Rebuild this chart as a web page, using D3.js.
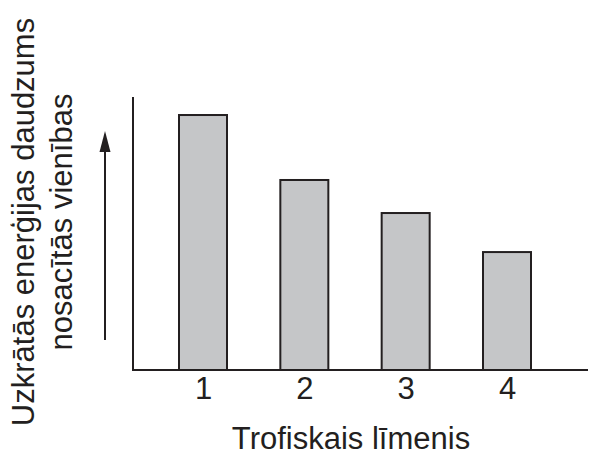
<!DOCTYPE html>
<html>
<head>
<meta charset="utf-8">
<script src="https://cdn.jsdelivr.net/npm/d3@7"></script>
<style>
body { margin: 0; background: #fff; }
text { font-family: "Liberation Sans", Arial, sans-serif; fill: #231f20; }
</style>
</head>
<body>
<svg id="chart" width="590" height="455"></svg>
<script>
// trophic levels and relative stored energy (arbitrary units)
var levels = ["1", "2", "3", "4"];
var energy = [93.4, 69.6, 57.5, 43.2];
var yLabelLines = ["Uzkrātās enerģijas daudzums", "nosacītās vienības"];
var xTitle = "Trofiskais līmenis";

var ink = "#231f20";
var svg = d3.select("#chart");

var x = d3.scalePoint().domain(levels).range([203, 507]);
var y = d3.scaleLinear().domain([0, 100]).range([370, 97]);
var barW = 48;

// bars
svg.append("g").selectAll("rect")
	.data(levels)
	.enter().append("rect")
	.attr("x", function (d) { return x(d) - barW / 2; })
	.attr("y", function (d, i) { return y(energy[i]); })
	.attr("width", barW)
	.attr("height", function (d, i) { return y(0) - y(energy[i]); })
	.attr("fill", "#c5c6c8")
	.attr("stroke", ink)
	.attr("stroke-width", 2);

// axis lines
svg.append("line")
	.attr("x1", 133).attr("x2", 133)
	.attr("y1", y(100)).attr("y2", y(0))
	.attr("stroke", ink).attr("stroke-width", 2);
svg.append("line")
	.attr("x1", 132).attr("x2", 588)
	.attr("y1", y(0)).attr("y2", y(0))
	.attr("stroke", ink).attr("stroke-width", 2);

// tick labels
var xAxis = svg.append("g")
	.attr("transform", "translate(0," + y(0) + ")")
	.call(d3.axisBottom(x).tickSize(0).tickPadding(7));
xAxis.select(".domain").remove();
xAxis.selectAll("text")
	.style("font-size", "31px")
	.style("font-family", "Liberation Sans, Arial, sans-serif")
	.attr("fill", ink);

// x title
svg.append("text")
	.attr("x", 351).attr("y", 449)
	.attr("text-anchor", "middle")
	.style("font-size", "31px")
	.text(xTitle);

// y title, two rotated lines
svg.append("g").selectAll("text")
	.data(yLabelLines)
	.enter().append("text")
	.attr("transform", function (d, i) {
		return "translate(" + (34 + i * 38) + ",222) rotate(-90)";
	})
	.attr("text-anchor", "middle")
	.style("font-size", "31px")
	.text(function (d) { return d; });

// upward arrow
svg.append("line")
	.attr("x1", 105).attr("x2", 105)
	.attr("y1", 340).attr("y2", 150)
	.attr("stroke", ink).attr("stroke-width", 2);
svg.append("path")
	.attr("d", "M105,131 L110.5,152 L99.5,152 Z")
	.attr("fill", ink);
</script>
</body>
</html>
